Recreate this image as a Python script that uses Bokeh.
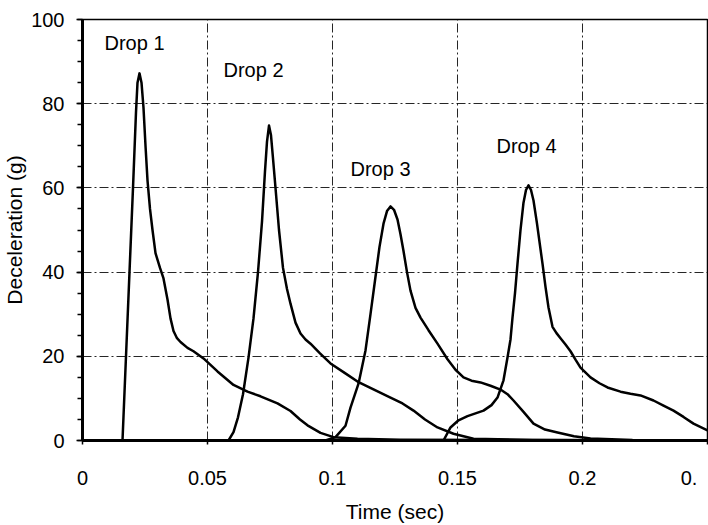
from bokeh.plotting import figure
from bokeh.models import Range1d, SingleIntervalTicker, FixedTicker, Label
from bokeh.embed import file_html
from bokeh.resources import INLINE

# ---- data ----
drop1_t = [0.0, 0.016, 0.0174, 0.0188, 0.0202, 0.0214, 0.022, 0.0228, 0.0236, 0.0244, 0.0252,
           0.026, 0.027, 0.028, 0.0292, 0.031, 0.0324, 0.034, 0.0352, 0.0364, 0.0378, 0.0392,
           0.042, 0.0444, 0.0484, 0.054, 0.0604, 0.066, 0.0712, 0.078, 0.0832, 0.087, 0.09,
           0.0952, 0.1004, 0.11, 0.127, 0.25]
drop1_g = [0.0, 0.0, 20.0, 40.0, 60.0, 78.0, 85.0, 87.2, 85.0, 79.0, 70.0,
           61.8, 55.0, 50.0, 44.5, 41.0, 38.5, 33.5, 29.0, 26.0, 24.3, 23.4,
           22.0, 21.2, 19.5, 16.4, 13.2, 11.6, 10.5, 8.8, 7.0, 5.0, 3.6,
           1.8, 0.8, 0.4, 0.2, 0.0]

drop2_t = [0.0, 0.0584, 0.0604, 0.0622, 0.0642, 0.0664, 0.0684, 0.0702, 0.0718, 0.073, 0.0738,
           0.0746, 0.0754, 0.0762, 0.0772, 0.0786, 0.0802, 0.0818, 0.0832, 0.0852, 0.0872,
           0.0892, 0.0912, 0.095, 0.0992, 0.105, 0.110, 0.1168, 0.1232, 0.128, 0.1324,
           0.137, 0.142, 0.1484, 0.1564, 0.18, 0.25]
drop2_g = [0.0, 0.0, 2.0, 5.5, 11.0, 19.7, 29.0, 40.0, 52.0, 64.0, 71.0,
           74.8, 72.5, 67.0, 60.0, 50.0, 41.0, 36.0, 32.5, 28.0, 25.4,
           24.0, 23.0, 20.7, 18.3, 16.0, 14.0, 12.0, 10.2, 8.8, 7.1,
           5.0, 3.1, 1.6, 0.4, 0.1, 0.0]

drop3_t = [0.0, 0.0972, 0.1012, 0.1052, 0.1072, 0.1104, 0.1132, 0.1152, 0.117, 0.1188, 0.1204,
           0.1218, 0.1232, 0.1246, 0.126, 0.1272, 0.1284, 0.1298, 0.1312, 0.1332, 0.1352,
           0.1384, 0.142, 0.146, 0.1492, 0.1524, 0.1556, 0.1592, 0.1632, 0.1672, 0.170,
           0.1724, 0.1764, 0.1804, 0.185, 0.19, 0.1966, 0.2032, 0.22, 0.25]
drop3_g = [0.0, 0.0, 0.8, 3.5, 7.8, 13.5, 21.4, 30.0, 38.0, 46.0, 51.5,
           54.5, 55.6, 54.8, 52.5, 49.0, 45.0, 40.0, 35.6, 31.5, 29.2,
           26.2, 23.0, 19.3, 16.8, 15.0, 14.2, 13.8, 13.0, 12.1, 11.0,
           9.5, 6.8, 4.0, 2.6, 1.9, 1.0, 0.5, 0.1, 0.0]

drop4_t = [0.0, 0.1444, 0.1472, 0.1504, 0.154, 0.1604, 0.1636, 0.166, 0.1684, 0.170, 0.1712,
           0.172, 0.173, 0.174, 0.1752, 0.1764, 0.1774, 0.1784, 0.1794, 0.1804, 0.1818,
           0.184, 0.1852, 0.1864, 0.188, 0.1896, 0.1912, 0.1932, 0.1952, 0.1972, 0.1992,
           0.2032, 0.2068, 0.21, 0.2152, 0.2192, 0.2232, 0.2284, 0.2324, 0.2364, 0.2404,
           0.2444, 0.25]
drop4_g = [0.0, 0.0, 3.1, 4.8, 5.8, 7.1, 8.4, 10.2, 14.3, 19.7, 24.0,
           29.2, 35.0, 42.0, 50.0, 56.5, 59.5, 60.6, 59.5, 57.0, 51.5,
           42.0, 36.5, 31.6, 27.0, 25.5, 24.3, 22.8, 21.2, 19.2, 17.3,
           15.0, 13.6, 12.6, 11.6, 11.1, 10.7, 9.5, 8.3, 7.1, 5.6,
           4.0, 2.4]

series_names = ["Drop 1", "Drop 2", "Drop 3", "Drop 4"]
x_ticks = [0, 0.05, 0.1, 0.15, 0.2, 0.25]
# the last label is cut off at the right edge in the reference ("0.")
x_tick_labels = ["0", "0.05", "0.1", "0.15", "0.2", "0." + "\u00a0" * 2]

FONT = "Liberation Sans"

p = figure(width=708, height=525, output_backend="svg", toolbar_location=None,
           x_range=Range1d(0, 0.25), y_range=Range1d(0, 100),
           min_border_left=82, min_border_right=1, min_border_top=19, min_border_bottom=85,
           x_axis_label="Time (sec)", y_axis_label="Deceleration (g)")
p.background_fill_color = "white"
p.border_fill_color = "white"
p.outline_line_color = "black"
p.outline_line_width = 1.5

# axes
p.xaxis.ticker = FixedTicker(ticks=x_ticks)
p.xaxis.major_label_overrides = {t: lab for t, lab in zip(x_ticks, x_tick_labels)}
p.yaxis.ticker = SingleIntervalTicker(interval=20, num_minor_ticks=4)
for ax in (p.xaxis[0], p.yaxis[0]):
    ax.axis_line_color = "black"
    ax.axis_line_width = 3
    ax.major_tick_line_color = "black"
    ax.major_tick_line_width = 1.5
    ax.major_tick_in = 0
    ax.minor_tick_in = 0
    ax.major_label_text_font = FONT
    ax.major_label_text_font_size = "20px"
    ax.major_label_text_color = "black"
    ax.axis_label_text_font = FONT
    ax.axis_label_text_font_size = "21px"
    ax.axis_label_text_font_style = "normal"
    ax.axis_label_text_color = "black"
p.xaxis.major_tick_out = 4
p.xaxis.minor_tick_line_color = None
p.xaxis.major_label_standoff = 22
p.xaxis.axis_label_standoff = 8
p.yaxis.major_tick_out = 6
p.yaxis.minor_tick_out = 5
p.yaxis.minor_tick_line_color = "black"
p.yaxis.minor_tick_line_width = 1.5
p.yaxis.major_label_standoff = 12
p.yaxis.axis_label_standoff = 2

# grid
p.xgrid.ticker = FixedTicker(ticks=[0.05, 0.1, 0.15, 0.2])
p.ygrid.ticker = FixedTicker(ticks=[20, 40, 60, 80])
for g in (p.xgrid[0], p.ygrid[0]):
    g.grid_line_color = "black"
    g.grid_line_width = 1
    g.grid_line_alpha = 0.85
    g.grid_line_dash = "9 3 2 3"

# curves
for tt, gg in [(drop1_t, drop1_g), (drop2_t, drop2_g), (drop3_t, drop3_g), (drop4_t, drop4_g)]:
    p.line(tt, gg, line_color="black", line_width=2.5, line_join="round")

# labels
label_pos = [(0.0088, 94.3), (0.0564, 88.1), (0.1072, 64.6), (0.1656, 70.0)]
for name, (lx, ly) in zip(series_names, label_pos):
    p.add_layout(Label(x=lx, y=ly, text=name, text_font=FONT, text_font_size="20px",
                       text_color="black", text_baseline="middle", text_align="left"))

open("out.html", "w").write(file_html(p, INLINE))
